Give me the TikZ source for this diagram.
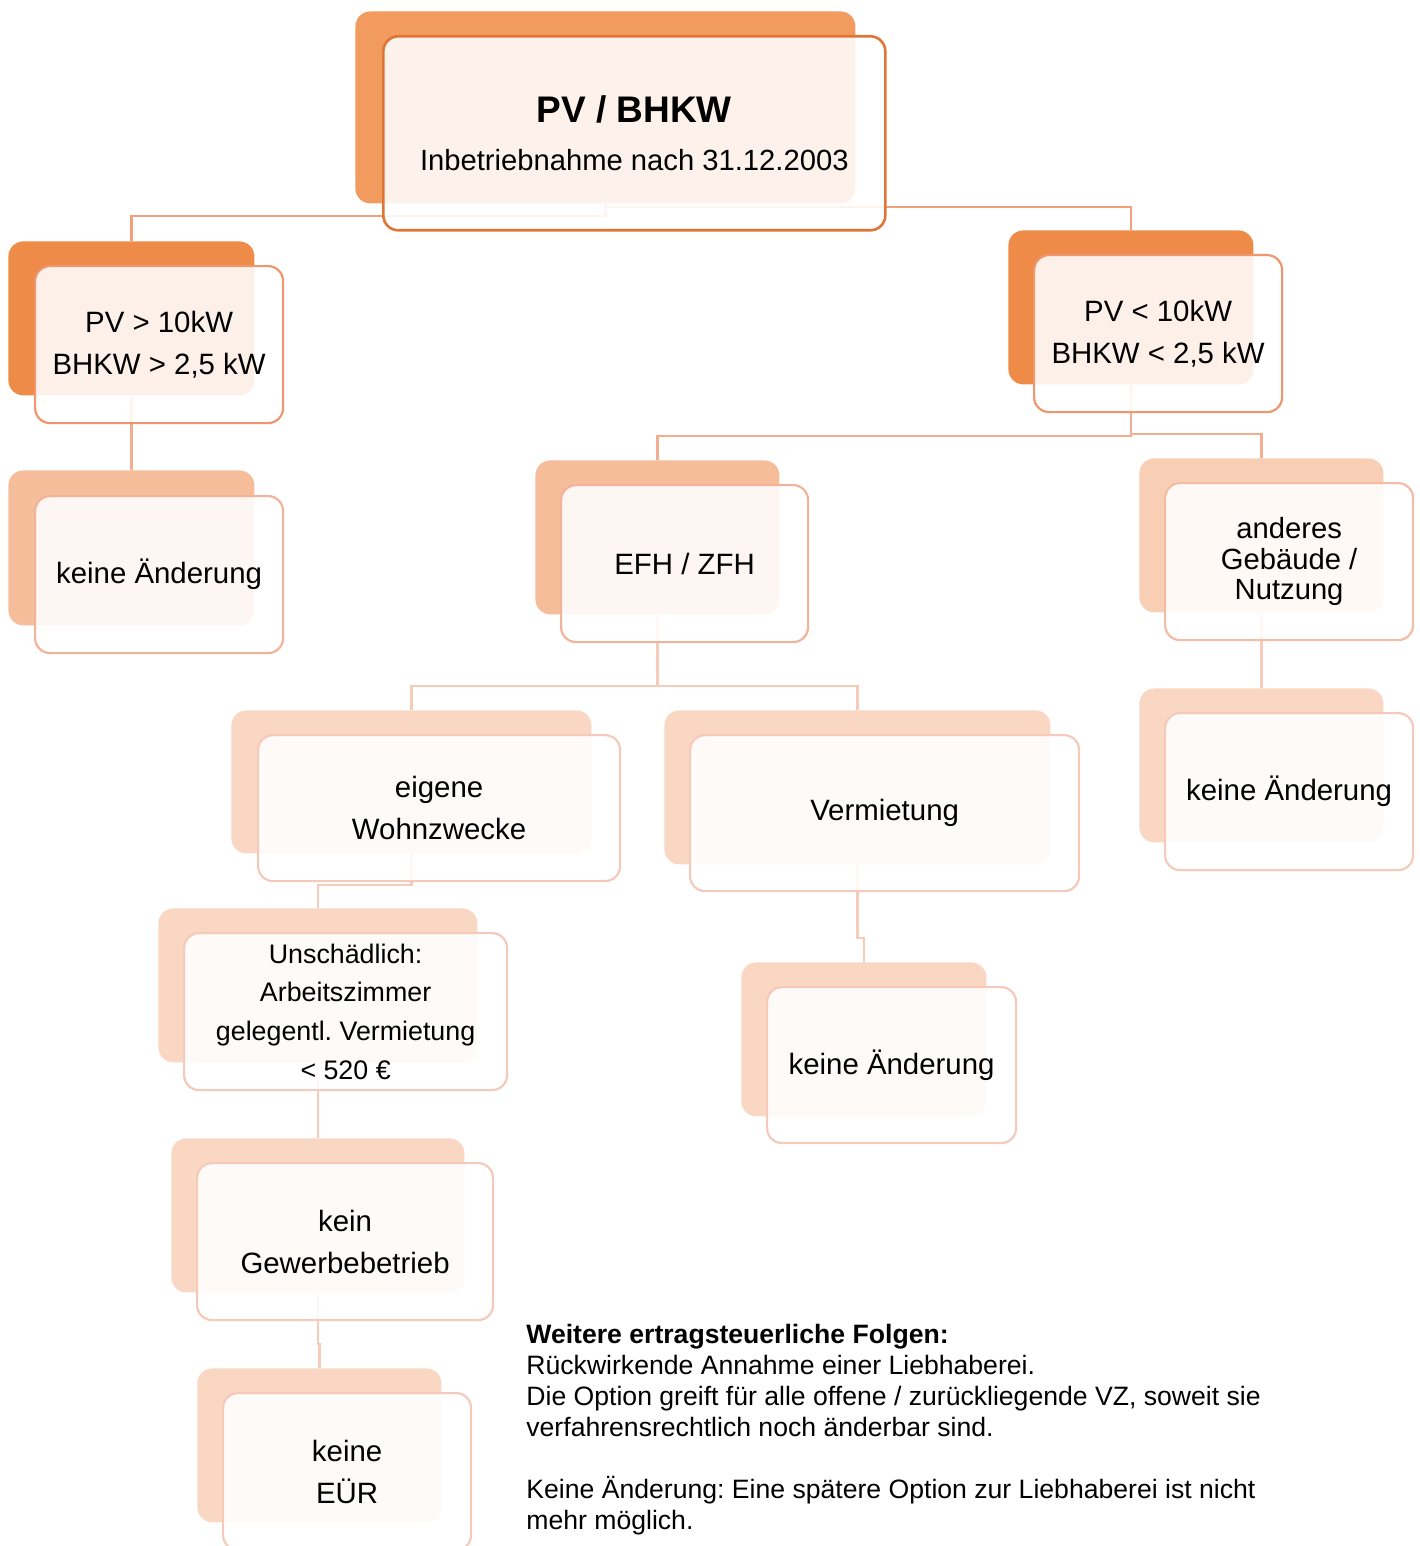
\documentclass[tikz,border=0pt]{standalone}
\usepackage{fontspec}
\setmainfont{Liberation Sans}
\frenchspacing
\definecolor{rootback}{HTML}{F29B5E}
\definecolor{rootline}{HTML}{DF7637}
\definecolor{pvback}{HTML}{EF8B48}
\definecolor{pvline}{HTML}{F0966E}
\definecolor{midback}{HTML}{F5BD9A}
\definecolor{midline}{HTML}{F2B39A}
\definecolor{andback}{HTML}{F8CEB4}
\definecolor{andline}{HTML}{F4BCA5}
\definecolor{lowback}{HTML}{F9D7C3}
\definecolor{lowline}{HTML}{F5CABA}
\definecolor{conA}{HTML}{F2A07C}
\definecolor{conB}{HTML}{F3AD90}
\definecolor{conC}{HTML}{F6CBB8}
\begin{document}
\frenchspacing
\begin{tikzpicture}[x=0.5pt,y=-0.5pt,
  back/.style={rectangle, rounded corners=7.5pt, inner sep=0pt, anchor=north west, draw=none},
  front/.style={rectangle, rounded corners=7.5pt, inner sep=0pt, anchor=north west, fill=white, fill opacity=0.88, text opacity=1, line width=1.1pt, align=center, font=\fontsize{14.7}{21}\selectfont},
  conn/.style={line width=1.2pt}]
\useasboundingbox (0,0) rectangle (1419,1546);

% back shapes
\node[back, fill=rootback, minimum width=250pt, minimum height=96pt] (rootb) at (355,11) {};
\node[back, fill=pvback, minimum width=123pt, minimum height=77pt] (pvab) at (8,241) {};
\node[back, fill=midback, minimum width=123pt, minimum height=77.5pt] (kab) at (8,470) {};
\node[back, fill=pvback, minimum width=122.5pt, minimum height=77pt] (pvbb) at (1008,230) {};
\node[back, fill=midback, minimum width=122pt, minimum height=77pt] (efhb) at (535,460) {};
\node[back, fill=andback, minimum width=122pt, minimum height=77pt] (andb) at (1139,458) {};
\node[back, fill=lowback, minimum width=122pt, minimum height=77pt] (kcb) at (1139,688) {};
\node[back, fill=lowback, minimum width=180pt, minimum height=71.5pt] (eigb) at (231,710) {};
\node[back, fill=lowback, minimum width=193pt, minimum height=77pt] (vermb) at (664,710) {};
\node[back, fill=lowback, minimum width=122.5pt, minimum height=77pt] (kbb) at (741,962) {};
\node[back, fill=lowback, minimum width=159.5pt, minimum height=77pt] (unb) at (158,908) {};
\node[back, fill=lowback, minimum width=146.5pt, minimum height=77pt] (gewb) at (171,1138) {};
\node[back, fill=lowback, minimum width=122pt, minimum height=77pt] (eurb) at (197,1368) {};

% connectors
\draw[conn, conA] (rootb.south) -- ++(0,12) -| (pvab.north);
\draw[conn, conA] (rootb.south) -- ++(0,3) -| (pvbb.north);
\draw[conn, conB] (pvab.south) -- (kab.north);
\draw[conn, conB] (pvbb.south) -- ++(0,51) -| (efhb.north);
\draw[conn, conB] (pvbb.south) -- ++(0,49) -| (andb.north);
\draw[conn, conC] (efhb.south) -- ++(0,71) -| (eigb.north);
\draw[conn, conC] (efhb.south) -- ++(0,71) -| (vermb.north);
\draw[conn, conC] (andb.south) -- (kcb.north);
\draw[conn, conC] (eigb.south) -- ++(0,31) -| (unb.north);
\draw[conn, conC] (vermb.south) -- ++(0,73) -| (kbb.north);
\draw[conn, conC] (unb.south) -- (gewb.north);
\draw[conn, conC] (gewb.south) -- ++(0,51) -| (eurb.north);

% front shapes
\node[front, draw=rootline, line width=1.3pt, minimum width=251pt, minimum height=97pt, font=\fontsize{14.6}{24}\selectfont] (rootf) at (382,35)
  {{\fontsize{18.5}{24}\selectfont\bfseries PV / BHKW}\\Inbetriebnahme nach 31.12.2003};
\node[front, draw=pvline, minimum width=124pt, minimum height=78.5pt] (pvaf) at (34,265) {PV > 10kW\\BHKW > 2,5 kW};
\node[front, draw=midline, minimum width=124pt, minimum height=78.5pt] (kaf) at (34,495) {keine Änderung};
\node[front, draw=pvline, minimum width=124pt, minimum height=78.5pt] (pvbf) at (1033,254) {PV < 10kW\\BHKW < 2,5 kW};
\node[front, draw=midline, minimum width=123.5pt, minimum height=78.5pt] (efhf) at (560,484) {EFH / ZFH};
\node[front, draw=andline, minimum width=124pt, minimum height=78.5pt, font=\fontsize{14.6}{15.3}\selectfont] (andf) at (1164,482) {anderes\\Gebäude /\\Nutzung};
\node[front, draw=lowline, minimum width=124pt, minimum height=78.5pt] (kcf) at (1164,712) {keine Änderung};
\node[front, draw=lowline, minimum width=181pt, minimum height=73pt] (eigf) at (257,734) {eigene\\Wohnzwecke};
\node[front, draw=lowline, minimum width=194.5pt, minimum height=78pt] (vermf) at (689,734) {Vermietung};
\node[front, draw=lowline, minimum width=124.5pt, minimum height=78pt] (kbf) at (766,986) {keine Änderung};
\node[front, draw=lowline, minimum width=161.5pt, minimum height=78.5pt, font=\fontsize{13.4}{19.3}\selectfont] (unf) at (183,932) {Unschädlich:\\Arbeitszimmer\\gelegentl. Vermietung\\< 520 €};
\node[front, draw=lowline, minimum width=148pt, minimum height=78.5pt] (gewf) at (196,1162) {kein\\Gewerbebetrieb};
\node[front, draw=lowline, minimum width=124pt, minimum height=78.5pt] (eurf) at (222,1392) {keine\\EÜR};

% note text
\node[anchor=north west, inner sep=0pt, align=left, font=\fontsize{13.3}{15.5}\selectfont] (note) at (526,1324)
  {\textbf{Weitere ertragsteuerliche Folgen:}\\
   Rückwirkende Annahme einer Liebhaberei.\\
   Die Option greift für alle offene / zurückliegende VZ, soweit sie\\
   verfahrensrechtlich noch änderbar sind.\\[15.5pt]
   Keine Änderung: Eine spätere Option zur Liebhaberei ist nicht\\
   mehr möglich.};
\end{tikzpicture}
\end{document}
